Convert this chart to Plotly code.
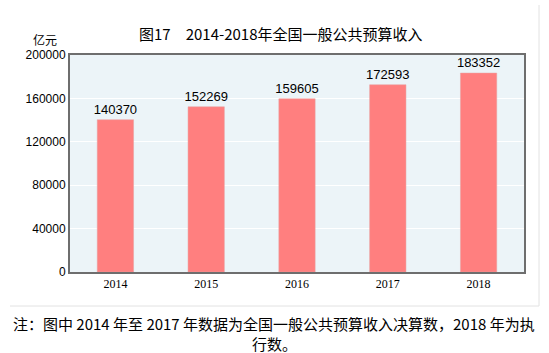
import plotly.graph_objects as go

years = ["2014", "2015", "2016", "2017", "2018"]
revenue = [140370, 152269, 159605, 172593, 183352]
y_ticks = [0, 40000, 80000, 120000, 160000, 200000]

title_text = "图17　2014-2018年全国一般公共预算收入"
unit_text = "亿元"
note_line1 = "注：图中 2014 年至 2017 年数据为全国一般公共预算收入决算数，2018 年为执"
note_line2 = "行数。"

fig = go.Figure()
fig.add_trace(go.Bar(
    x=years, y=revenue,
    marker=dict(color="#ff7f7f", line=dict(color="#e6a0a0", width=0.5)),
    text=[str(v) for v in revenue],
    textposition="outside",
    constraintext="none",
    textfont=dict(family="Liberation Sans, Arial", size=13, color="#000"),
    cliponaxis=False,
    width=0.4,
))

fig.update_layout(
    width=549, height=353,
    margin=dict(l=70, r=25, t=55, b=81),
    paper_bgcolor="white",
    plot_bgcolor="#ecf4f8",
    showlegend=False,
    font=dict(family="Noto Sans CJK SC", color="#000"),
    xaxis=dict(
        type="category",
        showline=True, linecolor="#6e6e6e", linewidth=2, mirror=True,
        showgrid=False, ticks="",
        tickfont=dict(family="Liberation Serif, Times New Roman", size=12, color="#000"),
    ),
    yaxis=dict(
        range=[0, 200000],
        tickvals=y_ticks,
        ticktext=[str(v) for v in y_ticks],
        showline=True, linecolor="#6e6e6e", linewidth=2, mirror=True,
        showgrid=True, gridcolor="#ffffff", gridwidth=1,
        zeroline=False, ticks="",
        tickfont=dict(family="Liberation Sans, Arial", size=12, color="#000"),
    ),
    annotations=[
        dict(text=title_text, xref="paper", yref="paper", x=(280-70)/454, y=(272-33)/217,
             xanchor="center", yanchor="middle", showarrow=False,
             font=dict(family="Noto Sans CJK SC", size=15, color="#000")),
        dict(text=unit_text, xref="paper", yref="paper", x=(59-70)/454, y=(272-40)/217,
             xanchor="right", yanchor="middle", showarrow=False,
             font=dict(family="Noto Sans CJK SC", size=12, color="#000")),
        dict(text=note_line1, xref="paper", yref="paper", x=(274-70)/454, y=(272-323)/217,
             xanchor="center", yanchor="middle", showarrow=False,
             font=dict(family="Noto Sans CJK SC", size=15, color="#000")),
        dict(text=note_line2, xref="paper", yref="paper", x=(274-70)/454, y=(272-343)/217,
             xanchor="center", yanchor="middle", showarrow=False,
             font=dict(family="Noto Sans CJK SC", size=15, color="#000")),
    ],
    shapes=[
        dict(type="line", xref="paper", yref="paper",
             x0=(539-70)/454, x1=(539-70)/454, y0=(272-5)/217, y1=(272-306)/217,
             line=dict(color="#e2e2e2", width=1)),
        dict(type="line", xref="paper", yref="paper",
             x0=(10-70)/454, x1=(539-70)/454, y0=(272-306)/217, y1=(272-306)/217,
             line=dict(color="#e2e2e2", width=1)),
    ],
)

fig.write_html("out.html")
